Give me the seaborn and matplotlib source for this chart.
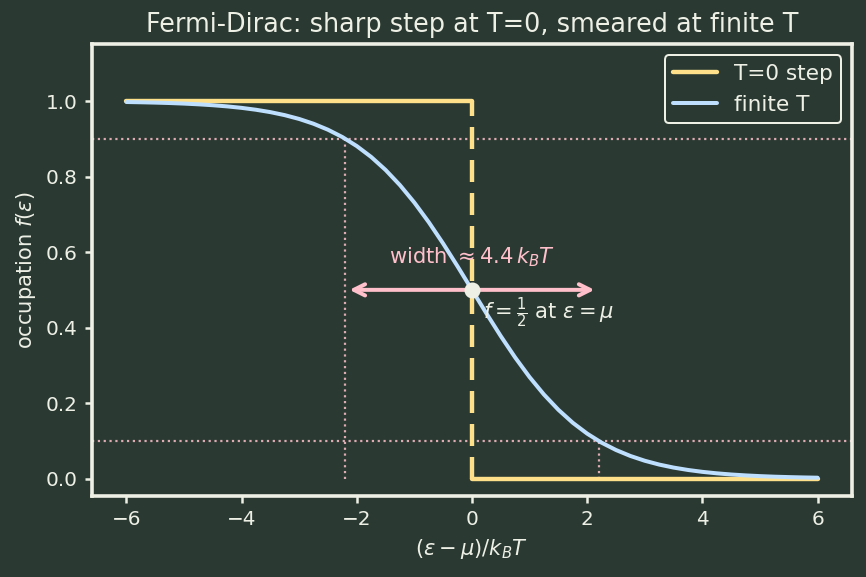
import numpy as np
import pandas as pd
import matplotlib
matplotlib.use("Agg")
import matplotlib.pyplot as plt
import seaborn as sns

# ---- data ----
eps = [-6.0, -5.75, -5.5, -5.25, -5.0, -4.75, -4.5, -4.25, -4.0, -3.75, -3.5, -3.25,
       -3.0, -2.75, -2.5, -2.25, -2.0, -1.75, -1.5, -1.25, -1.0, -0.75, -0.5, -0.25,
       0.0, 0.25, 0.5, 0.75, 1.0, 1.25, 1.5, 1.75, 2.0, 2.25, 2.5, 2.75, 3.0, 3.25,
       3.5, 3.75, 4.0, 4.25, 4.5, 4.75, 5.0, 5.25, 5.5, 5.75, 6.0]
occ = [0.9975, 0.9968, 0.9959, 0.9948, 0.9933, 0.9914, 0.9890, 0.9859, 0.9820, 0.9770,
       0.9707, 0.9627, 0.9526, 0.9399, 0.9241, 0.9047, 0.8808, 0.8520, 0.8176, 0.7773,
       0.7311, 0.6792, 0.6225, 0.5622, 0.5000, 0.4378, 0.3775, 0.3208, 0.2689, 0.2227,
       0.1824, 0.1480, 0.1192, 0.0953, 0.0759, 0.0601, 0.0474, 0.0373, 0.0293, 0.0230,
       0.0180, 0.0141, 0.0110, 0.0086, 0.0067, 0.0052, 0.0041, 0.0032, 0.0025]
step_x = [-6.0, 0.0, np.nan, 0.0, 6.0]
step_y = [1.0, 1.0, np.nan, 0.0, 0.0]
mu = 0.0
f_lo, f_hi = 0.1, 0.9
x_hi, x_lo = -2.197, 2.197   # where f = 0.9 and f = 0.1
width_label = r"width $\approx 4.4\,k_BT$"
half_label = r"$f=\frac{1}{2}$ at $\varepsilon=\mu$"

# ---- style ----
BG = "#2a3a33"
FG = "#eef0e6"
YEL = "#ffe08a"
BLU = "#bfdfff"
PINK = "#ffc0cb"

sns.set_theme(style="dark")
plt.rcParams.update({
    "figure.facecolor": BG, "axes.facecolor": BG, "savefig.facecolor": BG,
    "axes.edgecolor": FG, "axes.labelcolor": FG, "text.color": FG,
    "xtick.color": FG, "ytick.color": FG, "axes.linewidth": 1.8,
    "xtick.bottom": True, "ytick.left": True,
    "xtick.major.size": 3.5, "ytick.major.size": 3.5,
    "axes.grid": False, "font.size": 10,
    "axes.labelsize": 10.5, "xtick.labelsize": 10, "ytick.labelsize": 10,
    "legend.fontsize": 10.8, "axes.titlesize": 12.75,
})
plt.rcParams["font.family"] = ["DejaVu Sans"]

fig, ax = plt.subplots(figsize=(866 / 144, 577 / 144), dpi=144)

ax.plot(step_x, step_y, color=YEL, lw=2.2, label="T=0 step", zorder=3)
ax.vlines(mu, 0, 1, color=YEL, lw=2.2, linestyles=(0, (5, 2.5)), zorder=3)

df = pd.DataFrame({"eps": eps, "occ": occ})
sns.lineplot(data=df, x="eps", y="occ", color=BLU, lw=2, label="finite T", ax=ax, zorder=4)

ax.axhline(f_hi, color=PINK, lw=1.1, ls=":", alpha=0.85, zorder=1)
ax.axhline(f_lo, color=PINK, lw=1.1, ls=":", alpha=0.85, zorder=1)
ax.vlines([x_hi, x_lo], 0, [f_hi, f_lo], color=PINK, lw=1.1, linestyles=":", alpha=0.85, zorder=1)

ax.annotate("", xy=(x_hi, 0.5), xytext=(x_lo, 0.5),
            arrowprops=dict(arrowstyle="<->", color=PINK, lw=2, mutation_scale=14), zorder=5)
ax.text(mu, 0.555, width_label, color=PINK, ha="center", va="bottom", fontsize=10.5, zorder=6)
ax.plot([mu], [0.5], "o", color=FG, ms=7, zorder=7)
ax.text(mu + 0.2, 0.44, half_label, color=FG, ha="left", va="center", fontsize=10.5, zorder=6)

ax.set_xlim(-6.6, 6.6)
ax.set_ylim(-0.045, 1.15)
ax.set_yticks([0.0, 0.2, 0.4, 0.6, 0.8, 1.0])
ax.set_xlabel(r"$(\varepsilon-\mu)/k_BT$")
ax.set_ylabel(r"occupation $f(\varepsilon)$")
ax.set_title("Fermi-Dirac: sharp step at T=0, smeared at finite T", color=FG)

leg = ax.legend(loc="upper right", facecolor=BG, edgecolor=FG, framealpha=1)
for t in leg.get_texts():
    t.set_color(FG)

fig.subplots_adjust(left=0.106, right=0.984, top=0.923, bottom=0.141)
fig.savefig("out.png", dpi=144)
